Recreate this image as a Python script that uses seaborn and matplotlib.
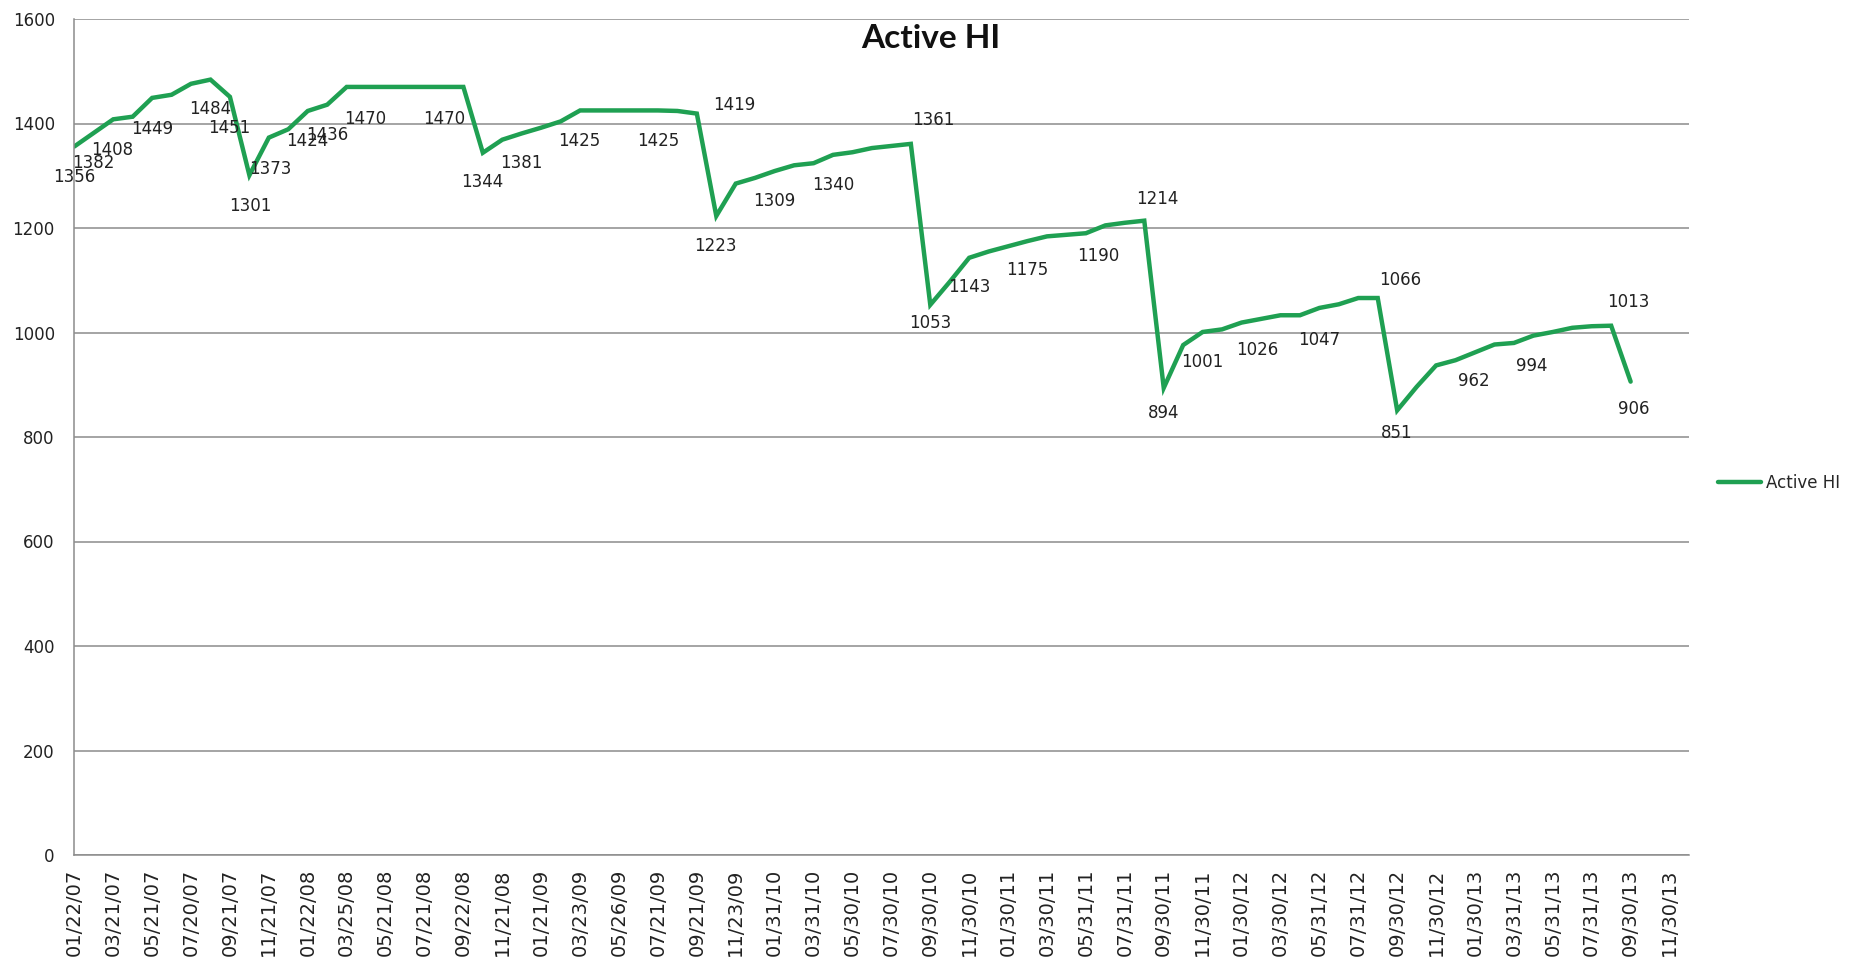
import matplotlib
matplotlib.use("Agg")
import matplotlib.pyplot as plt
import seaborn as sns
import pandas as pd
import numpy as np

# ---------------- data ----------------
title = "Active HI"
series_name = "Active HI"

tick_labels = [
    "01/22/07", "03/21/07", "05/21/07", "07/20/07", "09/21/07", "11/21/07",
    "01/22/08", "03/25/08", "05/21/08", "07/21/08", "09/22/08", "11/21/08",
    "01/21/09", "03/23/09", "05/26/09", "07/21/09", "09/21/09", "11/23/09",
    "01/31/10", "03/31/10", "05/30/10", "07/30/10", "09/30/10", "11/30/10",
    "01/30/11", "03/30/11", "05/31/11", "07/31/11", "09/30/11", "11/30/11",
    "01/30/12", "03/30/12", "05/31/12", "07/31/12", "09/30/12", "11/30/12",
    "01/30/13", "03/31/13", "05/31/13", "07/31/13", "09/30/13", "11/30/13",
]
n_categories = 84

active_hi = [
    1356, 1382, 1408, 1413, 1449, 1455, 1476, 1484, 1451, 1301,
    1373, 1389, 1424, 1436, 1470, 1470, 1470, 1470, 1470, 1470,
    1470, 1344, 1369, 1381, 1392, 1404, 1425, 1425, 1425, 1425,
    1425, 1424, 1419, 1223, 1285, 1296, 1309, 1320, 1324, 1340,
    1345, 1353, 1357, 1361, 1053, 1097, 1143, 1155, 1165, 1175,
    1184, 1187, 1190, 1205, 1210, 1214, 894, 976, 1001, 1006,
    1019, 1026, 1033, 1033, 1047, 1054, 1066, 1066, 851, 896,
    937, 947, 962, 977, 980, 994, 1001, 1009, 1012, 1013,
    906,
]

# indices of points that carry a data label
label_idx = [0, 1, 2, 4, 7, 8, 9, 10, 12, 13, 15, 19, 21, 23, 26, 30, 32, 33,
             36, 39, 43, 44, 46, 49, 52, 55, 56, 58, 61, 64, 67, 68, 72, 75, 79, 80]
# label offsets in pixels (dx right, dy down)
label_dx = [0, 0, -1, 0, 0, -1, 1, 1, -1, 0, -1, 0, -1, 0, -1, 0, 37, -1,
            0, 0, 22, 0, 0, 0, 12, 13, 0, 0, -4, 0, 22, 0, -1, -2, 17, 3]
label_dy = [31, 30, 31, 31, 29, 31, 31, 31, 30, 30, 32, 32, 29, 30, 31, 31, -9, 30,
            30, 30, -24, 18, 29, 29, 23, -22, 25, 30, 31, 32, -18, 23, 29, 30, -24, 27]

# ---------------- style ----------------
GREEN = "#1FA052"
GRID = "#8C8C8C"
W_PX, H_PX = 1865, 961

sns.set_style("white")
plt.rcParams['font.family'] = ['DejaVu Sans']

fig = plt.figure(figsize=(W_PX / 100, H_PX / 100), dpi=100)
left, right, top, bottom = 74.3, 1689, 19, 855
ax = fig.add_axes([left / W_PX, 1 - bottom / H_PX, (right - left) / W_PX, (bottom - top) / H_PX])

df = pd.DataFrame({"idx": np.arange(len(active_hi)), "value": active_hi})
sns.lineplot(data=df, x="idx", y="value", ax=ax, color=GREEN, linewidth=3.2,
             label=series_name, legend=False, solid_joinstyle="miter")

ax.set_xlim(0, n_categories - 1)
ax.set_ylim(0, 1600)
ax.set_yticks(np.arange(0, 1601, 200))
ax.set_yticklabels([str(v) for v in range(0, 1601, 200)], fontsize=12, color="#222222")
ax.set_xticks(np.arange(n_categories))
xl = [""] * n_categories
for k, t in enumerate(tick_labels):
    xl[2 * k] = t
ax.set_xticklabels(xl, rotation=90, fontsize=14, color="#222222")
ax.set_xlabel("")
ax.set_ylabel("")

ax.set_axisbelow(True)
ax.yaxis.grid(True, color=GRID, linewidth=1.1)
ax.xaxis.grid(False)
for s in ["top", "right"]:
    ax.spines[s].set_visible(False)
for s in ["left", "bottom"]:
    ax.spines[s].set_color(GRID)
    ax.spines[s].set_linewidth(1.1)
ax.tick_params(axis="both", which="major", direction="out", length=6, width=1,
               color=GRID)
ax.tick_params(axis="y", pad=8)
ax.tick_params(axis="x", pad=4)

for i, dx, dy in zip(label_idx, label_dx, label_dy):
    ax.annotate(str(active_hi[i]), (i, active_hi[i]), xytext=(dx, -dy),
                textcoords="offset pixels", ha="center", va="center",
                fontsize=12, color="#222222", annotation_clip=False)

fig.text(931 / W_PX, 1 - 38 / H_PX, title, fontsize=24, fontweight="bold",
         family=["Lato", "DejaVu Sans"], ha="center", va="center", color="#111111")

handles = ax.get_lines()[:1]
ax.legend(handles, [series_name], loc="center left",
          bbox_to_anchor=(1718 / W_PX, 1 - 483 / H_PX), bbox_transform=fig.transFigure,
          frameon=False, borderpad=0, borderaxespad=0, handlelength=2.6,
          handletextpad=0.3, fontsize=12)

fig.savefig("out.png", dpi=100, facecolor="white")
